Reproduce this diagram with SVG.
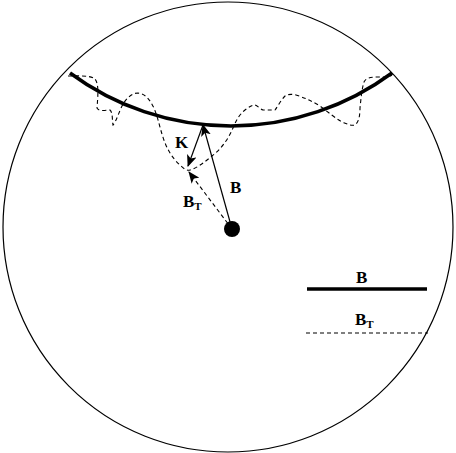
<svg xmlns="http://www.w3.org/2000/svg" width="456" height="453" viewBox="0 0 456 453">
<style>
.t{font-family:"Liberation Serif","Times New Roman",serif;font-weight:bold;font-size:17px;fill:#000}
.s{font-size:11px}
.thin{fill:none;stroke:#000;stroke-width:1.2}
.dash{fill:none;stroke:#000;stroke-width:1.1;stroke-dasharray:4,3}
.thick{fill:none;stroke:#000;stroke-width:3.5}
</style>
<defs>
<marker id="ah" viewBox="0 0 12 10" refX="11" refY="5" markerWidth="12" markerHeight="10" markerUnits="userSpaceOnUse" orient="auto">
<path d="M0,0 L12,5 L0,10 L3,5 Z" fill="#000"/>
</marker>
</defs>
<rect width="456" height="453" fill="#fff"/>
<g id="boundary">
<circle cx="228" cy="227" r="225" class="thin"/>
</g>
<g id="fieldB">
<path d="M70,73 A271,271 0 0 0 392,73" class="thick"/>
</g>
<g id="fieldBT">
<path class="dash" d="M68,76 C78,76 90,75 95,79 C99,84 98,95 97,108 C99,112 106,110 110,110 C113,113 112,120 113,125 C116,122 119,112 122,106 C125,100 131,93 138,93 C146,94 150,100 154,108 C158,118 160,128 162,134 C166,148 172,158 180,165 C184,169 187,171 190,170 C197,168 205,162 212,156 C220,150 228,140 233,128 C236,120 240,114 245,110 C249,107 252,105 255,105 C258,106 260,109 263,110 L275,110 C278,106 281,100 285,96 C288,94 292,94 296,95 C305,98 312,101 320,106 C328,112 335,118 342,122 C347,124 351,126 355,125 C359,122 360,115 360,108 C361,98 362,88 364,82 C366,78 370,77 377,77 C384,77 388,78 392,75"/>
</g>
<g id="dot">
<circle cx="232" cy="229" r="8" fill="#000"/>
</g>
<g id="connectors">
<line x1="232" y1="229" x2="203" y2="125" class="thin" marker-end="url(#ah)"/>
<line x1="203" y1="125" x2="188" y2="166" class="thin" marker-end="url(#ah)"/>
<line x1="232" y1="229" x2="189" y2="172" class="dash" marker-end="url(#ah)"/>
</g>
<g id="labels">
<text x="175" y="148" class="t">K</text>
<text x="230" y="193" class="t">B</text>
<text x="183" y="207" class="t">B<tspan class="s" dy="3">T</tspan></text>
</g>
<g id="legend">
<text x="356" y="283" class="t">B</text>
<line x1="307" y1="289" x2="427" y2="289" stroke="#000" stroke-width="3.5"/>
<text x="355" y="325" class="t">B<tspan class="s" dy="3">T</tspan></text>
<line x1="306" y1="333" x2="428" y2="333" class="dash"/>
</g>
</svg>
